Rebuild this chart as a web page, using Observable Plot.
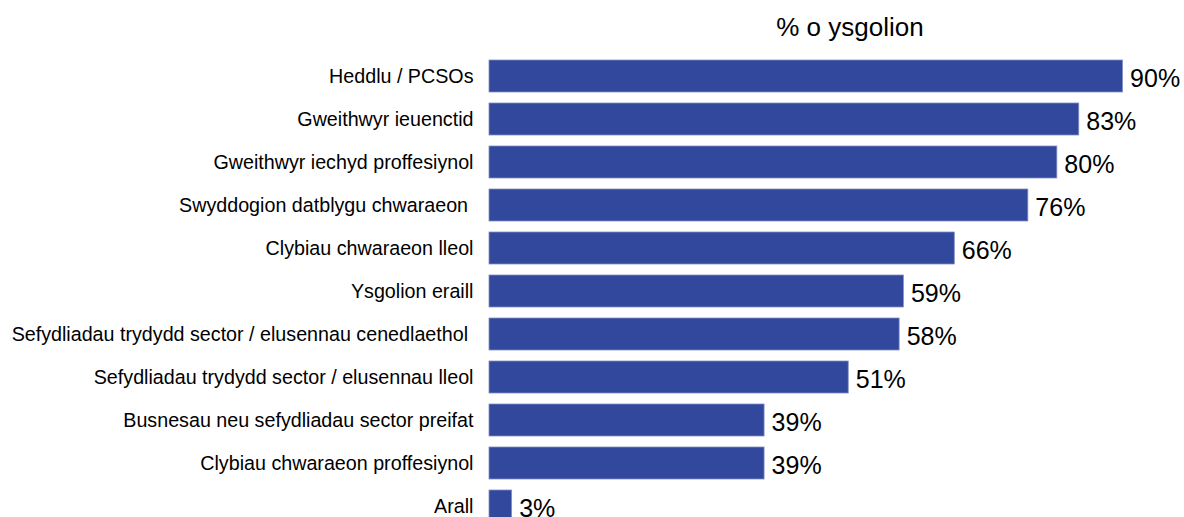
<!DOCTYPE html>
<html>
<head>
<meta charset="utf-8">
<script src="https://cdn.jsdelivr.net/npm/d3@7"></script>
<script src="https://cdn.jsdelivr.net/npm/@observablehq/plot@0.6"></script>
<style>
  html, body { margin: 0; padding: 0; background: #fff; overflow: hidden; }
  #wrap { position: relative; width: 1184px; height: 517px; overflow: hidden; font-family: "Liberation Sans", Arial, sans-serif; }
  #title { position: absolute; top: 14px; left: 700px; width: 300px; text-align: center; font-size: 26px; line-height: 26px; color: #000; }
  #chart { position: absolute; top: 0; left: 0; }
</style>
</head>
<body>
<div id="wrap">
  <div id="chart"></div>
  <div id="title"></div>
</div>
<script>
const title = "% o ysgolion";
const categories = [
  "Heddlu / PCSOs",
  "Gweithwyr ieuenctid",
  "Gweithwyr iechyd proffesiynol",
  "Swyddogion datblygu chwaraeon\u00a0",
  "Clybiau chwaraeon lleol",
  "Ysgolion eraill",
  "Sefydliadau trydydd sector / elusennau cenedlaethol\u00a0",
  "Sefydliadau trydydd sector / elusennau lleol",
  "Busnesau neu sefydliadau sector preifat",
  "Clybiau chwaraeon proffesiynol",
  "Arall"
];
const values = [89.6, 83.4, 80.3, 76.2, 65.8, 58.6, 58.0, 50.8, 38.9, 38.9, 3.2];
const valueLabels = ["90%", "83%", "80%", "76%", "66%", "59%", "58%", "51%", "39%", "39%", "3%"];

const data = categories.map((c, i) => ({category: c, value: values[i], label: valueLabels[i]}));

document.getElementById("title").textContent = title;

const chart = Plot.plot({
  width: 1184,
  height: 530,
  marginLeft: 489,
  marginRight: 2,
  marginTop: 52,
  marginBottom: 0,
  style: {fontFamily: "'Liberation Sans', Arial, sans-serif", color: "#000", background: "#fff", overflow: "visible"},
  x: {domain: [0, 98], axis: null},
  y: {domain: categories, paddingInner: 0.263, paddingOuter: 0.1315, align: 0.5, axis: null},
  marks: [
    Plot.barX(data, {x: "value", y: "category", fill: "#31489c", stroke: "#8390c4", strokeWidth: 0.8}),
    Plot.text(data, {x: "value", y: "category", text: "label", textAnchor: "start", dx: 7, dy: 2, fontSize: 25, fill: "#000"}),
    Plot.axisY({tickSize: 0, tickPadding: 16, fontSize: 19.7, label: null, fill: "#000"})
  ]
});
document.getElementById("chart").appendChild(chart);
</script>
</body>
</html>
